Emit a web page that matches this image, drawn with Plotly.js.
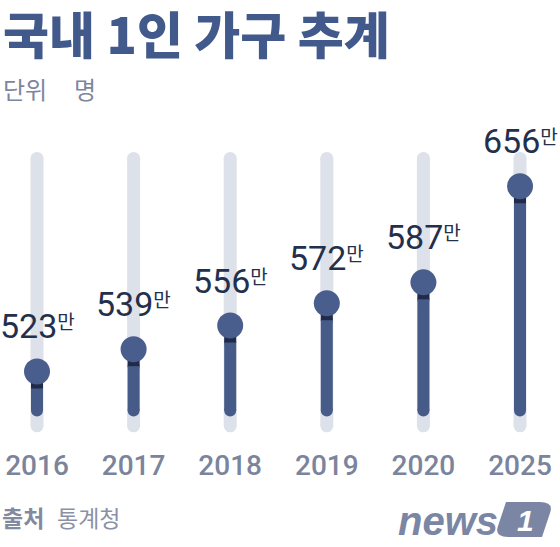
<!DOCTYPE html>
<html>
<head>
<meta charset="utf-8">
<script src="https://cdn.plot.ly/plotly-3.0.1.min.js"></script>
<style>
  html, body { margin: 0; padding: 0; background: #fff; }
  #chart { width: 560px; height: 547px; }
</style>
</head>
<body>
<div id="chart"></div>
<script>
  // 국내 1인 가구 추계 (단위: 명, 만 단위 표기)
  const years = ['2016', '2017', '2018', '2019', '2020', '2025'];
  const households = [523, 539, 556, 572, 587, 656];
  const unitLabel = '만';

  const titleText = '국내 1인 가구 추계';
  const unitCaption = ['단위', '명'];
  const sourceCaption = ['출처', '통계청'];

  // track / bar extents in value units
  const trackTop = 676;
  const trackBottom = 484;
  const barBase = 495;
  const bandDepth = 12.2;

  const idx = years.map((y, i) => i);

  function segments(fromVals, toVals) {
    let xs = [], ys = [];
    idx.forEach(i => {
      xs.push(i, i, null);
      ys.push(fromVals[i], toVals[i], null);
    });
    return { x: xs, y: ys };
  }

  const trackSeg = segments(idx.map(() => trackBottom), idx.map(() => trackTop));
  const barSeg = segments(idx.map(() => barBase), households.map(v => v - bandDepth));
  const bandSeg = segments(households.map(v => v - bandDepth), households);

  var track = {
    x: trackSeg.x, y: trackSeg.y,
    mode: 'lines+markers',
    line: { width: 13, color: '#dde1e9' },
    marker: { size: 13, color: '#dde1e9' },
    hoverinfo: 'skip',
  };

  var bar = {
    x: barSeg.x, y: barSeg.y,
    mode: 'lines+markers',
    line: { width: 12, color: '#475b89' },
    marker: { size: 12, color: '#475b89' },
    hoverinfo: 'skip',
  };

  var band = {
    x: bandSeg.x, y: bandSeg.y,
    mode: 'lines',
    line: { width: 12, color: '#1f2b48' },
    hoverinfo: 'skip',
  };

  var dots = {
    x: idx, y: households,
    mode: 'markers',
    marker: { size: 26, color: '#4a5e8e' },
    hoverinfo: 'skip',
  };

  const valueNotes = households.map((v, i) => ({
    x: i, y: v,
    xref: 'x', yref: 'y',
    text: '<span style="font-size:34px">' + v + '</span><sup><span style="font-size:19px">' + unitLabel + '</span></sup>',
    showarrow: false,
    yanchor: 'bottom',
    yshift: 23,
    font: { family: 'Roboto, "Noto Sans CJK KR", sans-serif', size: 22, color: '#24304b' },
  }));

  const px = p => p / 560;
  const py = p => (440 - p) / 300;

  const textNotes = [
    { x: px(2), y: py(32), text: titleText, xanchor: 'left',
      font: { family: '"Noto Sans CJK KR"', size: 50, color: '#425a8b', weight: 900 } },
    { x: px(2), y: py(88), text: unitCaption[0], xanchor: 'left',
      font: { family: '"Noto Sans CJK KR"', size: 24, color: '#7d869f' } },
    { x: px(73), y: py(88), text: unitCaption[1], xanchor: 'left',
      font: { family: '"Noto Sans CJK KR"', size: 24, color: '#7d869f' } },
    { x: px(1), y: py(517), text: sourceCaption[0], xanchor: 'left',
      font: { family: '"Noto Sans CJK KR"', size: 23, color: '#838aa0', weight: 700 } },
    { x: px(56), y: py(517), text: sourceCaption[1], xanchor: 'left',
      font: { family: '"Noto Sans CJK KR"', size: 23, color: '#8a91a6' } },
    { x: px(499), y: py(521), text: '<i>news</i>', xanchor: 'right',
      font: { family: '"Liberation Sans", sans-serif', size: 40, color: '#7b86a5', weight: 700 } },
    { x: px(525), y: py(520), text: '<i>1</i>', xanchor: 'center',
      font: { family: '"Liberation Sans", sans-serif', size: 30, color: '#ffffff', weight: 700 } },
  ].map(a => Object.assign({ xref: 'paper', yref: 'paper', yanchor: 'middle', showarrow: false, borderpad: 0 }, a));

  // slanted rounded box behind the logo "1"
  const P = pt => px(pt[0]) + ',' + py(pt[1]);
  const logoPath = 'M' + P([506, 502]) +
    ' L' + P([540, 502]) + ' Q' + P([554, 502]) + ' ' + P([550, 513]) +
    ' L' + P([542, 537]) +
    ' L' + P([508, 537]) + ' Q' + P([494, 537]) + ' ' + P([498, 526]) +
    ' L' + P([506, 502]) + ' Z';

  var layout = {
    width: 560,
    height: 547,
    margin: { l: 0, r: 0, t: 140, b: 107 },
    paper_bgcolor: '#ffffff',
    plot_bgcolor: '#ffffff',
    showlegend: false,
    xaxis: {
      range: [-0.383, 5.414],
      tickvals: idx,
      ticktext: years,
      showgrid: false, zeroline: false, showline: false,
      ticks: '',
      ticklabelstandoff: 6,
      tickfont: { family: 'Roboto, sans-serif', size: 28, color: '#7b849d', weight: 500 },
      fixedrange: true,
    },
    yaxis: {
      range: [473.8, 689.2],
      showgrid: false, zeroline: false, showline: false,
      showticklabels: false,
      fixedrange: true,
    },
    shapes: [{
      type: 'path', xref: 'paper', yref: 'paper',
      path: logoPath,
      fillcolor: '#7b86a5', line: { width: 0 }, layer: 'below',
    }],
    annotations: valueNotes.concat(textNotes),
  };

  Plotly.newPlot('chart', [track, bar, band, dots], layout, { displayModeBar: false, staticPlot: true });
</script>
</body>
</html>
